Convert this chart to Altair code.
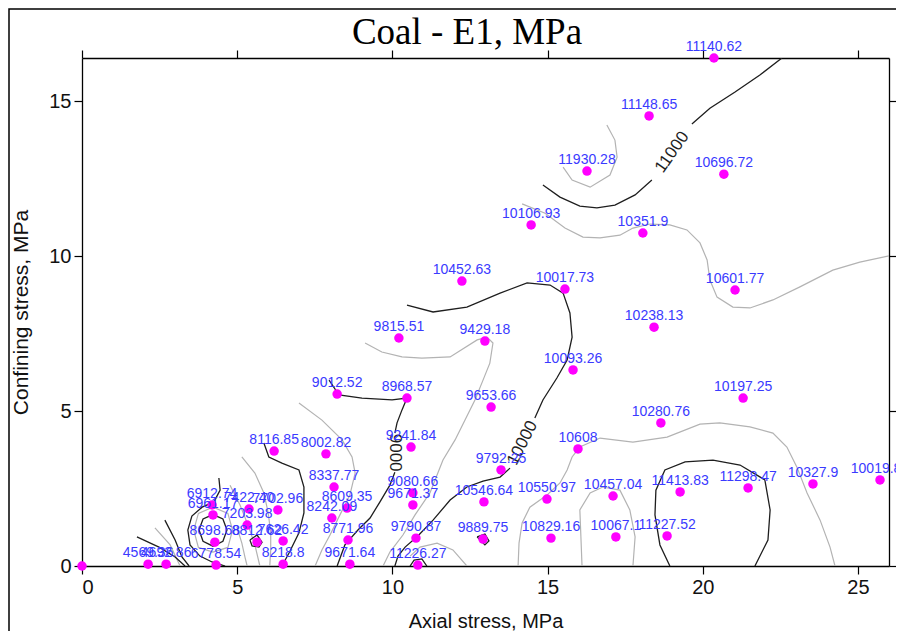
import altair as alt
import pandas as pd

# ---------------- measured data points (axial stress, confining stress, E1 label)
pt_x = [0.00, 2.13, 2.71, 4.32, 6.48, 4.28, 5.64, 6.48, 4.19, 4.22, 5.38, 6.31, 5.32,
        8.12, 8.54, 8.05, 8.57, 8.63, 10.66, 10.66, 10.76, 10.82, 12.92, 12.95, 14.98,
        15.11, 17.11, 17.20, 18.85, 19.27, 21.46, 23.55, 25.71, 13.50, 15.98, 18.65,
        21.30, 13.18, 10.60, 6.19, 7.86, 8.22, 10.47, 10.21, 12.98, 15.82, 18.43,
        12.24, 15.56, 21.04, 14.47, 18.07, 16.27, 20.68, 18.27, 20.36]
pt_y = [0.00, 0.06, 0.06, 0.03, 0.06, 0.77, 0.77, 0.81, 1.97, 1.65, 1.84, 1.81, 1.32,
        2.55, 1.87, 1.55, 0.84, 0.06, 2.36, 1.97, 0.90, 0.03, 0.87, 2.07, 2.16,
        0.90, 2.26, 0.94, 0.97, 2.39, 2.52, 2.65, 2.78, 3.10, 3.78, 4.62,
        5.42, 5.13, 3.84, 3.71, 3.62, 5.55, 5.42, 7.36, 7.26, 6.33, 7.71,
        9.20, 8.94, 8.91, 11.01, 10.75, 12.75, 12.65, 14.53, 16.40]
pt_label = ["", "4569.36", "4692.86", "6778.54", "8218.8", "8698.68", "8812.62", "7626.42",
            "6912.74", "6961.17", "7422.40", "7702.96", "7203.98",
            "8337.77", "8609.35", "8242.09", "8771.96", "9671.64", "9080.66", "9671.37",
            "9790.87", "11226.27", "9889.75", "10546.64", "10550.97",
            "10829.16", "10457.04", "10067.1", "11227.52", "11413.83", "11298.47", "10327.9",
            "10019.85", "9792.25", "10608", "10280.76",
            "10197.25", "9653.66", "9241.84", "8116.85", "8002.82", "9012.52", "8968.57",
            "9815.51", "9429.18", "10093.26", "10238.13",
            "10452.63", "10017.73", "10601.77", "10106.93", "10351.9", "11930.28",
            "10696.72", "11148.65", "11140.62"]

# ---------------- contour lines (x, y) in MPa
major_11000_a = [(14.85, 12.30), (15.40, 11.91), (16.04, 11.62), (16.59, 11.56), (17.17, 11.65),
                 (17.82, 11.98), (18.36, 12.46)]
major_11000_b = [(19.65, 14.27), (20.23, 14.78), (21.04, 15.30), (21.84, 15.85), (22.55, 16.40)]
major_11000_loop = [(18.94, 0.00), (18.62, 0.68), (18.46, 1.65), (18.49, 2.45), (18.78, 3.10),
                    (19.43, 3.36), (20.33, 3.42), (21.20, 3.26), (22.00, 2.78), (22.17, 1.81),
                    (22.10, 0.84), (21.68, 0.00)]
major_10000_a = [(10.47, 8.42), (11.31, 8.20), (12.40, 8.36), (13.47, 8.81), (14.34, 9.14),
                 (15.08, 9.07), (15.50, 8.81), (15.72, 8.17), (15.79, 7.39), (15.63, 6.65),
                 (15.30, 6.07), (14.85, 5.36), (14.59, 4.78)]
major_10000_b = [(13.79, 3.16), (13.47, 2.87), (12.92, 2.74), (12.40, 2.55), (11.86, 2.13),
                 (11.31, 1.48), (10.82, 0.97), (10.41, 0.61), (10.18, 0.32), (10.08, 0.00)]
major_9000_a = [(7.96, 6.00), (8.28, 5.52), (9.02, 5.42), (9.99, 5.36), (10.47, 5.42),
                (10.31, 5.04), (10.15, 4.62), (10.08, 4.29)]
major_9000_b = [(10.08, 3.03), (9.92, 2.61), (9.60, 2.07), (9.28, 1.55), (8.89, 1.16),
                (8.47, 0.68), (8.22, 0.00)]
major_8000 = [(5.86, 3.97), (6.02, 3.52), (6.44, 3.32), (6.99, 3.10), (7.15, 2.55),
              (7.15, 1.71), (6.99, 1.07), (6.67, 0.42), (6.44, 0.00)]
major_left_tail = [(4.41, 2.84), (4.45, 2.45), (4.25, 2.07), (3.87, 1.90), (3.54, 1.61),
                   (3.41, 1.16), (3.48, 0.68), (3.80, 0.32), (4.19, 0.13), (4.61, 0.00)]
major_left_loop = [(3.77, 1.16), (3.90, 1.52), (4.22, 1.66), (4.54, 1.52), (4.67, 1.16),
                   (4.54, 0.80), (4.22, 0.64), (3.90, 0.80), (3.77, 1.16)]
major_left_1 = [(1.77, 0.94), (2.48, 0.61), (3.00, 0.29), (3.32, 0.00)]
major_left_2 = [(2.67, 1.48), (3.00, 0.84), (3.22, 0.29), (3.45, 0.00)]
major_spot_a = [(5.41, 0.84), (5.64, 1.00), (5.80, 0.77), (5.70, 0.61), (5.48, 0.65), (5.41, 0.84)]
major_spot_b = [(12.73, 0.94), (12.98, 1.03), (13.11, 0.81), (12.98, 0.68), (12.73, 0.94)]
major_spot_c = [(10.57, 0.00), (10.70, 0.19), (10.95, 0.23), (11.11, 0.00)]

minor_11500 = [(16.91, 14.24), (17.17, 13.75), (17.24, 13.20), (17.01, 12.62), (16.37, 12.23),
               (15.79, 12.46), (15.50, 12.88)]
minor_10500_top = [(14.18, 11.69), (14.92, 11.39), (15.56, 10.91), (16.14, 10.62), (16.69, 10.59),
                   (17.33, 10.68), (17.75, 10.91), (18.30, 11.04), (18.94, 11.01), (19.49, 10.85),
                   (19.91, 10.43), (20.14, 9.88), (20.23, 9.23), (20.46, 8.68), (20.97, 8.36),
                   (21.52, 8.33), (22.26, 8.59), (23.13, 9.01), (24.19, 9.55), (25.06, 9.81),
                   (26.00, 10.01)]
minor_10500_low = [(14.05, 0.00), (14.08, 0.74), (14.18, 1.39), (14.43, 1.90), (14.98, 2.29),
                   (15.40, 2.68), (15.63, 3.10), (15.79, 3.52), (16.04, 3.84), (16.69, 4.13),
                   (17.75, 4.00), (18.85, 4.16), (19.91, 4.58), (20.55, 4.62), (21.52, 4.49),
                   (22.26, 4.29), (22.71, 3.84), (23.03, 3.20), (23.36, 2.36), (23.78, 1.48),
                   (24.10, 0.61), (24.26, 0.00)]
minor_10500_bump = [(16.11, 0.00), (16.04, 1.81), (16.37, 2.36), (16.78, 2.55), (17.33, 2.45),
                    (17.65, 1.81), (17.82, 0.94), (17.75, 0.00)]
minor_10500_spot = [(10.57, 0.32), (10.89, 0.61), (11.44, 0.74), (11.95, 0.52), (12.40, 0.00)]
minor_9500 = [(9.12, 7.20), (9.66, 6.91), (10.31, 6.75), (10.95, 6.71), (11.86, 6.75),
              (12.73, 7.30), (13.05, 7.39), (13.24, 7.20), (13.14, 6.55), (12.92, 6.00),
              (12.66, 5.36), (12.34, 4.71), (12.02, 4.07), (11.63, 3.42), (11.21, 2.36),
              (10.73, 1.65), (10.34, 1.00), (9.92, 0.45), (9.70, 0.00)]
minor_8500 = [(6.99, 5.26), (7.73, 4.71), (8.38, 4.07), (8.70, 3.52), (8.80, 3.00),
              (8.63, 2.29), (8.31, 1.65), (7.99, 1.00), (7.73, 0.52), (7.51, 0.00)]
minor_7500 = [(5.15, 3.52), (5.57, 3.00), (5.86, 2.36), (6.00, 1.71), (6.08, 1.07),
              (6.08, 0.52), (6.05, 0.00)]
minor_7000 = [(4.77, 2.61), (5.09, 1.97), (5.35, 1.32), (5.57, 0.68), (5.73, 0.00)]
minor_6500 = [(4.99, 1.26), (5.15, 0.74), (5.25, 0.29), (5.32, 0.00)]
minor_5500 = [(2.35, 1.23), (2.84, 0.68), (3.16, 0.00)]
minor_left_loop = [(3.60, 1.16), (3.75, 1.70), (4.22, 1.90), (4.70, 1.70), (4.85, 1.16),
                   (4.70, 0.60), (4.22, 0.45), (3.75, 0.60), (3.60, 1.16)]

# contour value labels
clab_text = ["11000", "10000", "9000"]
clab_x = [19.01, 14.19, 10.08]
clab_y = [13.36, 3.97, 3.66]
clab_angle = [305, 297, 90]

TITLE = "Coal - E1, MPa"

# ---------------- build tables
major = [major_11000_a, major_11000_b, major_11000_loop, major_10000_a, major_10000_b,
         major_9000_a, major_9000_b, major_8000, major_left_tail, major_left_loop,
         major_left_1, major_left_2, major_spot_a, major_spot_b, major_spot_c]
minor = [minor_11500, minor_10500_top, minor_10500_low, minor_10500_bump, minor_10500_spot,
         minor_9500, minor_8500, minor_7500, minor_7000, minor_6500, minor_5500, minor_left_loop]

rows = []
cid = 0
for kind, group in (("minor", minor), ("major", major)):
    for line in group:
        for j, (x, y) in enumerate(line):
            rows.append({"cid": cid, "kind": kind, "idx": j, "x": x, "y": y})
        cid += 1
lines_df = pd.DataFrame(rows)
pts_df = pd.DataFrame({"x": pt_x, "y": pt_y, "label": pt_label})
clab_df = pd.DataFrame({"x": clab_x, "y": clab_y, "text": clab_text, "angle": clab_angle})
title_df = pd.DataFrame({"t": [TITLE]})

xs = alt.Scale(domain=[0, 26], nice=False, zero=False)
ys = alt.Scale(domain=[0, 16.4], nice=False, zero=False)
SANS = "Liberation Sans"

base_lines = alt.Chart(lines_df).encode(
    x=alt.X("x:Q", scale=xs, axis=None),
    y=alt.Y("y:Q", scale=ys, axis=None),
    detail="cid:N",
    order="idx:Q",
)
minor_layer = base_lines.transform_filter(alt.datum.kind == "minor").mark_line(
    color="#b3b3b3", strokeWidth=1.2, clip=True)
major_layer = base_lines.transform_filter(alt.datum.kind == "major").mark_line(
    color="#1e1e1e", strokeWidth=1.3, clip=True)

clab_layer = alt.Chart(clab_df).mark_text(
    font=SANS, fontSize=17, color="#1e1e1e", align="center", baseline="middle"
).encode(
    x=alt.X("x:Q", scale=xs, axis=None),
    y=alt.Y("y:Q", scale=ys, axis=None),
    text="text:N",
    angle=alt.Angle("angle:Q", scale=None),
)

points_layer = alt.Chart(pts_df).mark_circle(size=90, color="#ff00ff", opacity=1).encode(
    x=alt.X("x:Q", scale=xs, axis=alt.Axis(
        orient="bottom", values=[0, 5, 10, 15, 20, 25], title="Axial stress, MPa",
        tickSize=8, labelPadding=3, titlePadding=14, titleFontSize=20)),
    y=alt.Y("y:Q", scale=ys, axis=alt.Axis(
        orient="left", values=[0, 5, 10, 15], title="Confining stress, MPa",
        tickSize=8, labelPadding=3, titlePadding=17)),
)

labels_layer = alt.Chart(pts_df).mark_text(
    font=SANS, fontSize=14, color="#3a3aff", align="center", baseline="alphabetic", dy=-7
).encode(
    x=alt.X("x:Q", scale=xs, axis=None),
    y=alt.Y("y:Q", scale=ys, axis=None),
    text="label:N",
)

mirror_layer = alt.Chart(pts_df).mark_point(opacity=0).encode(
    x=alt.X("x:Q", scale=xs, axis=alt.Axis(
        orient="top", values=[0, 5, 10, 15, 20, 25], labels=False, title=None, tickSize=8)),
    y=alt.Y("y:Q", scale=ys, axis=alt.Axis(
        orient="right", values=[0, 5, 10, 15], labels=False, title=None, tickSize=8)),
)

title_layer = alt.Chart(title_df).mark_text(
    font="Liberation Serif", fontSize=37, color="#000000", align="center", baseline="alphabetic"
).encode(x=alt.value(385), y=alt.value(-14), text="t:N")

frame_layer = alt.Chart(title_df).mark_rect(
    fill=None, stroke="#000000", strokeWidth=1.5, clip=False
).encode(x=alt.value(-73), x2=alt.value(900), y=alt.value(-49), y2=alt.value(700))

chart = alt.layer(
    minor_layer, major_layer, clab_layer, points_layer, labels_layer, mirror_layer,
    title_layer, frame_layer
).resolve_axis(x="independent", y="independent").properties(
    width=807,
    height=508,
    padding={"left": 74, "top": 50, "right": 7, "bottom": 65},
    autosize=alt.AutoSizeParams(type="none"),
).configure_view(stroke=None).configure_axis(
    domainColor="#000000", domainWidth=1.3, tickColor="#000000", tickWidth=1.2,
    labelFont=SANS, labelFontSize=20, labelColor="#111111",
    titleFont=SANS, titleFontSize=21, titleFontWeight="normal", titleColor="#111111",
    grid=False,
)

chart.save("out.html", embed_options={"renderer": "svg", "actions": False})
